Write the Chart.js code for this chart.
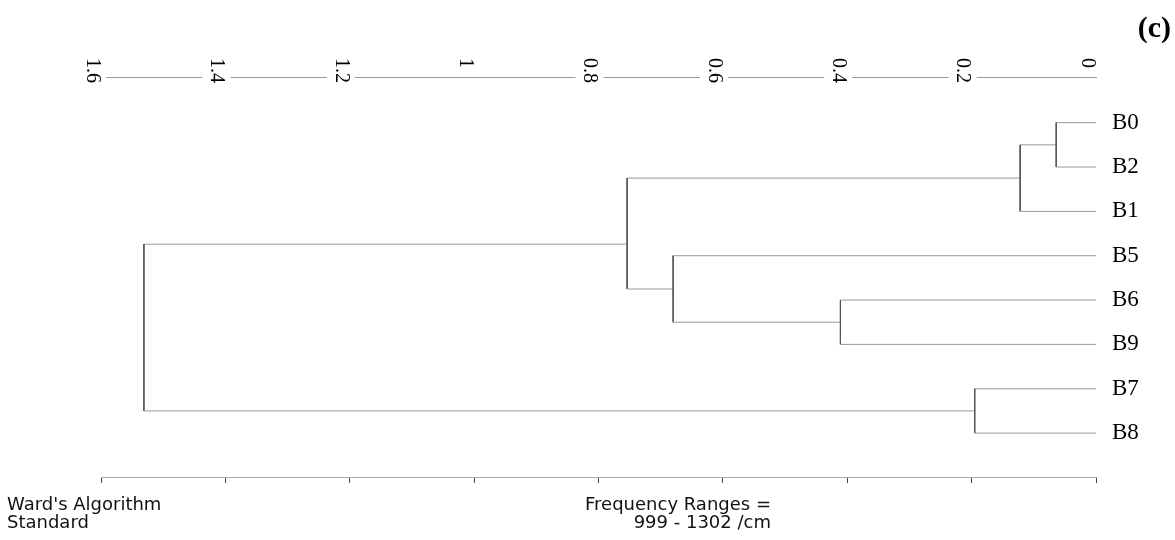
<!DOCTYPE html>
<html>
<head>
<meta charset="utf-8">
<script src="https://cdn.jsdelivr.net/npm/chart.js@4"></script>
<style>
  body { margin: 0; background: #fff; }
  #wrap { position: relative; width: 1175px; height: 540px; }
  .note {
    position: absolute;
    font-family: "DejaVu Sans", sans-serif;
    font-size: 18px;
    line-height: 18px;
    color: #111;
    white-space: nowrap;
  }
  #panel {
    position: absolute;
    right: 4px;
    top: 12px;
    font-family: "Liberation Serif", serif;
    font-weight: bold;
    font-size: 30px;
    line-height: 30px;
    color: #000;
  }
</style>
</head>
<body>
<div id="wrap">
  <canvas id="dendro" width="1175" height="540"></canvas>
  <div class="note" style="left:7px; top:495px;">Ward's Algorithm<br>Standard</div>
  <div class="note" style="right:404px; top:495px; text-align:right;">Frequency Ranges =<br>999 - 1302 /cm</div>
  <div id="panel">(c)</div>
</div>
<script>
// leaf order top to bottom
const leaves = ["B0", "B2", "B1", "B5", "B6", "B9", "B7", "B8"];

// distance axis
const tickValues = [0, 0.2, 0.4, 0.6, 0.8, 1, 1.2, 1.4, 1.6];
const tickLabels = ["0", "0.2", "0.4", "0.6", "0.8", "1", "1.2", "1.4", "1.6"];

// merges (m0..m6), children are leaves or earlier merges
const mergeLeft = ["B0", "m0", "B6", "B5", "m1", "B7", "m4"];
const mergeRight = ["B2", "B1", "B9", "m2", "m3", "B8", "m5"];
const mergeHeight = [0.064, 0.122, 0.411, 0.680, 0.754, 0.195, 1.531];
const mergeRow = [0.5, 1.25, 4.5, 3.75, 2.74, 6.5, 4.62];

function nodeOf(name) {
  if (name[0] === "m") {
    const i = Number(name.slice(1));
    return { h: mergeHeight[i], row: mergeRow[i] };
  }
  return { h: 0, row: leaves.indexOf(name) };
}

const datasets = mergeHeight.map((h, i) => {
  const a = nodeOf(mergeLeft[i]);
  const b = nodeOf(mergeRight[i]);
  return {
    data: [
      { x: a.h, y: a.row },
      { x: h, y: a.row },
      { x: h, y: b.row },
      { x: b.h, y: b.row }
    ],
    showLine: true,
    borderWidth: 1,
    borderColor: "#999",
    pointRadius: 0,
    pointHoverRadius: 0,
    tension: 0,
    segment: {
      borderColor: ctx => ctx.p0.parsed.x === ctx.p1.parsed.x ? "#555" : "#999"
    }
  };
});

const setTicks = scale => {
  scale.ticks = tickValues.map(v => ({ value: v }));
};

new Chart(document.getElementById("dendro"), {
  type: "scatter",
  data: { datasets },
  options: {
    responsive: false,
    animation: false,
    layout: { padding: { left: 101, right: 0, top: 0, bottom: 0 } },
    plugins: {
      legend: { display: false },
      tooltip: { enabled: false }
    },
    scales: {
      x: {
        type: "linear",
        position: "bottom",
        min: 0,
        max: 1.6,
        reverse: true,
        afterBuildTicks: setTicks,
        afterFit: s => { s.height = 63; },
        grid: {
          display: true,
          drawOnChartArea: false,
          drawTicks: true,
          tickLength: 6,
          tickColor: "#444",
          tickWidth: 1
        },
        border: { display: true, color: "#aaa", dash: [2, 1] },
        ticks: { display: false }
      },
      xTop: {
        type: "linear",
        position: "top",
        min: 0,
        max: 1.6,
        reverse: true,
        afterBuildTicks: setTicks,
        afterFit: s => {
          s.height = 77;
          s.paddingLeft = 0;
          s.paddingRight = 0;
        },
        grid: { display: false, drawTicks: false },
        border: { display: true, color: "#999", dash: [2, 1] },
        ticks: {
          autoSkip: false,
          mirror: true,
          minRotation: -90,
          maxRotation: -90,
          padding: -19,
          labelOffset: 3,
          showLabelBackdrop: true,
          backdropColor: "#fff",
          backdropPadding: 2,
          color: "#000",
          font: { family: "Liberation Serif", size: 20 },
          callback: (v, i) => tickLabels[i]
        }
      },
      y: {
        type: "linear",
        position: "right",
        min: -1.03,
        max: 7.99,
        reverse: true,
        afterBuildTicks: s => {
          s.ticks = leaves.map((_, i) => ({ value: i }));
        },
        afterFit: s => { s.width = 79; },
        grid: { display: false, drawTicks: false },
        border: { display: false },
        ticks: {
          padding: 16,
          color: "#000",
          font: { family: "Liberation Serif", size: 23 },
          callback: (v, i) => leaves[i]
        }
      }
    }
  }
});
</script>
</body>
</html>
